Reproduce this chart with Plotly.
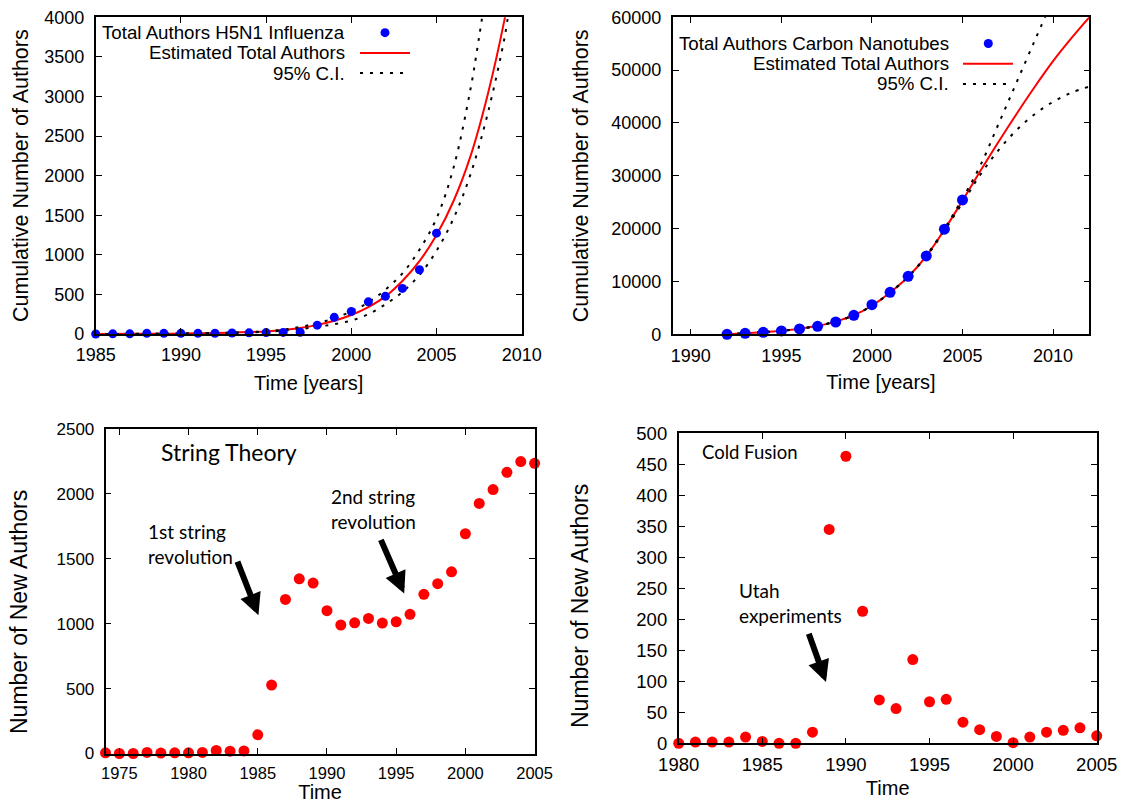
import plotly.graph_objects as go

# ---------------- data ----------------
# H5N1 influenza (cumulative authors)
h5n1_years = list(range(1985, 2006))
h5n1_authors = [0, 2, 2, 8, 8, 8, 8, 10, 12, 15, 18, 20, 22, 112, 210, 284, 406, 476, 576, 812, 1274]
h5n1_fit_years = [1985, 1987, 1989, 1991, 1993, 1995, 1996, 1997, 1998, 1999, 2000, 2001, 2002,
                  2003, 2004, 2005, 2006, 2007, 2008, 2009, 2009.1]
h5n1_fit = [0, 2, 4, 8, 17, 33, 50, 76, 115, 168, 240, 340, 475, 670, 920, 1250, 1680, 2250, 3020, 3980, 4100]
h5n1_up_years = [1985, 1987, 1989, 1991, 1993, 1995, 1996, 1997, 1998, 1999, 2000, 2001, 2002,
                 2003, 2004, 2005, 2006, 2007, 2007.5, 2007.75]
h5n1_up = [0, 2, 5, 10, 19, 35, 55, 90, 135, 200, 285, 400, 560, 765, 1065, 1460, 2100, 3100, 3750, 4100]
h5n1_lo_years = [1985, 1987, 1989, 1991, 1993, 1995, 1996, 1997, 1998, 1999, 2000, 2001, 2002,
                 2003, 2004, 2005, 2006, 2007, 2008, 2009, 2009.25]
h5n1_lo = [0, 1, 3, 6, 13, 28, 42, 62, 90, 125, 170, 250, 375, 530, 745, 1050, 1460, 2020, 2780, 3750, 4100]

# Carbon nanotubes (cumulative authors)
cnt_years = list(range(1992, 2006))
cnt_authors = [0, 190, 380, 630, 1010, 1510, 2330, 3600, 5610, 7950, 10980, 14830, 19900, 25430]
cnt_fit_years = list(range(1992, 2013))
cnt_fit = [0, 200, 410, 680, 1050, 1600, 2400, 3600, 5400, 7900, 10900, 14800, 19800, 25300,
           31000, 36500, 41800, 46900, 51700, 56000, 60000]
cnt_up_years = list(range(1992, 2010)) + [2009.75]
cnt_up = [0, 200, 410, 680, 1050, 1600, 2400, 3600, 5400, 7900, 10900, 14900, 20000, 25700,
          32050, 39900, 47800, 55700, 61500]
cnt_lo_years = list(range(1992, 2013))
cnt_lo = [0, 200, 410, 680, 1050, 1600, 2400, 3600, 5400, 7900, 10900, 14700, 19600, 24900,
          30300, 34900, 38700, 41700, 44000, 45700, 46900]

# String theory (new authors per year)
st_years = list(range(1974, 2006))
st_new = [5, 0, 0, 8, 3, 5, 5, 8, 23, 18, 20, 144, 527, 1187, 1346, 1313, 1100, 990, 1007, 1041,
          1005, 1015, 1072, 1226, 1308, 1400, 1693, 1927, 2033, 2166, 2249, 2236]

# Cold fusion (new authors per year)
cf_years = list(range(1980, 2006))
cf_new = [0, 2, 2, 2, 10, 3, 0, 0, 18, 345, 463, 213, 70, 56, 135, 67, 71, 34, 22, 11, 1, 10,
          18, 21, 25, 12]

# ---------------- styling ----------------
AX_FONT = "Liberation Sans, Arial, Helvetica, sans-serif"
ANN_FONT = "Lato, Open Sans, sans-serif"
BLUE = "#0000ff"
RED = "#ff0000"
DOT = "3px,7px"

fig = go.Figure()

# top-left
fig.add_trace(go.Scatter(x=h5n1_fit_years, y=h5n1_fit, mode="lines", line=dict(color=RED, width=2, shape="spline"),
                         xaxis="x", yaxis="y", name="Estimated Total Authors"))
fig.add_trace(go.Scatter(x=h5n1_up_years, y=h5n1_up, mode="lines", line=dict(color="black", width=2, dash=DOT, shape="spline"),
                         xaxis="x", yaxis="y", name="95% C.I."))
fig.add_trace(go.Scatter(x=h5n1_lo_years, y=h5n1_lo, mode="lines", line=dict(color="black", width=2, dash=DOT, shape="spline"),
                         xaxis="x", yaxis="y", name="95% C.I. (lower)"))
fig.add_trace(go.Scatter(x=h5n1_years, y=h5n1_authors, mode="markers", marker=dict(color=BLUE, size=9),
                         cliponaxis=False, xaxis="x", yaxis="y", name="Total Authors H5N1 Influenza"))

# top-right
fig.add_trace(go.Scatter(x=cnt_fit_years, y=cnt_fit, mode="lines", line=dict(color=RED, width=2, shape="spline"),
                         xaxis="x2", yaxis="y2", name="Estimated Total Authors"))
fig.add_trace(go.Scatter(x=cnt_up_years, y=cnt_up, mode="lines", line=dict(color="black", width=2, dash=DOT, shape="spline"),
                         xaxis="x2", yaxis="y2", name="95% C.I."))
fig.add_trace(go.Scatter(x=cnt_lo_years, y=cnt_lo, mode="lines", line=dict(color="black", width=2, dash=DOT, shape="spline"),
                         xaxis="x2", yaxis="y2", name="95% C.I. (lower)"))
fig.add_trace(go.Scatter(x=cnt_years, y=cnt_authors, mode="markers", marker=dict(color=BLUE, size=11),
                         cliponaxis=False, xaxis="x2", yaxis="y2", name="Total Authors Carbon Nanotubes"))

# bottom-left
fig.add_trace(go.Scatter(x=st_years, y=st_new, mode="markers", marker=dict(color=RED, size=11),
                         cliponaxis=False, xaxis="x3", yaxis="y3", name="String Theory"))
# bottom-right
fig.add_trace(go.Scatter(x=cf_years, y=cf_new, mode="markers", marker=dict(color=RED, size=11),
                         cliponaxis=False, xaxis="x4", yaxis="y4", name="Cold Fusion"))


def ax(domain, rng, dtick, tick0, title, fsize, tfsize, anchor, standoff, tls, **kw):
    d = dict(domain=domain, range=rng, dtick=dtick, tick0=tick0, showgrid=False, zeroline=False,
             showline=True, linecolor="black", linewidth=1.6, mirror="ticks", ticks="inside",
             ticklen=6, tickwidth=1.3, tickcolor="black", tickformat="d",
             tickfont=dict(family=AX_FONT, size=fsize, color="black"),
             title=dict(text=title, font=dict(family=AX_FONT, size=tfsize, color="black"), standoff=standoff),
             anchor=anchor, automargin=False, ticklabelstandoff=tls)
    d.update(kw)
    return d


W, H = 1129, 803
def dx(a, b):
    return [a / W, b / W]
def dy(top, bottom):
    return [1 - bottom / H, 1 - top / H]

fig.update_layout(
    width=W, height=H, margin=dict(l=0, r=0, t=0, b=0), autosize=False,
    paper_bgcolor="white", plot_bgcolor="white", showlegend=False,
    xaxis=ax(dx(95.7, 521.7), [1985, 2010], 5, 1985, "Time [years]", 18, 20, "y", 12, 4),
    yaxis=ax(dy(17.3, 334), [0, 4000], 500, 0, "Cumulative Number of Authors", 18, 21.5, "x", 10, 6),
    xaxis2=ax(dx(672.7, 1089.3), [1989, 2012], 5, 1990, "Time [years]", 18, 20, "y2", 10, 4),
    yaxis2=ax(dy(17.3, 334.3), [0, 60000], 10000, 0, "Cumulative Number of Authors", 18, 21.5, "x2", 17, 6),
    xaxis3=ax(dx(105.5, 534.6), [1974, 2005], 5, 1975, "Time", 16.5, 20, "y3", 7, 4),
    yaxis3=ax(dy(429, 753.5), [0, 2500], 500, 0, "", 17, 20, "x3", 12, 6),
    xaxis4=ax(dx(678.7, 1096.7), [1980, 2005], 5, 1980, "Time", 18.5, 20, "y4", 7, 4),
    yaxis4=ax(dy(433.3, 743.3), [0, 500], 50, 0, "", 18.5, 20, "x4", 10, 6),
)

# ---------------- gnuplot-style keys (text right, sample on the right) ----------------
def key(xa, ya, text_x, s0, s1, dot_x, rows, labels, fsize):
    shapes, anns = [], []
    for lab, ry in zip(labels, rows):
        anns.append(dict(xref=f"{xa} domain", yref=f"{ya} domain", x=text_x, y=ry, text=lab, showarrow=False,
                         xanchor="right", yanchor="middle", font=dict(family=AX_FONT, size=fsize, color="black")))
    shapes.append(dict(type="circle", xref=f"{xa} domain", yref=f"{ya} domain", xsizemode="pixel", ysizemode="pixel",
                       xanchor=dot_x, yanchor=rows[0], x0=-4.5, x1=4.5, y0=-4.5, y1=4.5,
                       fillcolor=BLUE, line=dict(width=0)))
    shapes.append(dict(type="line", xref=f"{xa} domain", yref=f"{ya} domain", x0=s0, x1=s1, y0=rows[1], y1=rows[1],
                       line=dict(color=RED, width=2)))
    shapes.append(dict(type="line", xref=f"{xa} domain", yref=f"{ya} domain", x0=s0, x1=s1, y0=rows[2], y1=rows[2],
                       line=dict(color="black", width=2, dash=DOT)))
    return shapes, anns

s1, a1 = key("x", "y", 0.5906, 0.6204, 0.7378, 0.6791, [0.9514, 0.8876, 0.8238],
             ["Total Authors H5N1 Influenza", "Estimated Total Authors", "95% C.I."], 18.7)
s2, a2 = key("x2", "y2", 0.668, 0.6968, 0.8168, 0.7576, [0.9174, 0.8536, 0.7899],
             ["Total Authors Carbon Nanotubes", "Estimated Total Authors", "95% C.I."], 18.7)

# ---------------- annotations on lower panels ----------------
def txt(xa, ya, x, y, t, size):
    return dict(xref=xa, yref=ya, x=x, y=y, text=t, showarrow=False, xanchor="left", yanchor="middle",
                align="left", font=dict(family=ANN_FONT, size=size, color="black"))

def arrow(xa, ya, tail, tip):
    return dict(xref=xa, yref=ya, axref=xa, ayref=ya, x=tip[0], y=tip[1], ax=tail[0], ay=tail[1], text="",
                showarrow=True, arrowhead=2, arrowsize=0.72, arrowwidth=6, arrowcolor="black", standoff=0)

def ytitle(xp, yp, t, size):
    return dict(xref="paper", yref="paper", x=xp, y=yp, text=t, showarrow=False, textangle=-90,
                xanchor="center", yanchor="middle", font=dict(family=AX_FONT, size=size, color="black"))

anns = a1 + a2 + [
    txt("x3", "y3", 1977.87, 2323, "String Theory", 23),
    txt("x3", "y3", 1976.93, 1613, "1st string<br>revolution", 19),
    txt("x3", "y3", 1990.16, 1887, "2nd string<br>revolution", 19),
    arrow("x3", "y3", (1983.49, 1490), (1985.05, 1066)),
    arrow("x3", "y3", (1993.85, 1657), (1995.58, 1233)),
    txt("x4", "y4", 1981.27, 470, "Cold Fusion", 18.5),
    txt("x4", "y4", 1983.47, 226, "Utah<br>experiments", 19),
    arrow("x4", "y4", (1987.75, 179), (1988.81, 99)),
    ytitle(19 / W, 1 - 612 / H, "Number of New Authors", 23),
    ytitle(580 / W, 1 - 606 / H, "Number of New Authors", 23),
]

fig.update_layout(shapes=s1 + s2, annotations=anns)
fig.write_html("out.html")
